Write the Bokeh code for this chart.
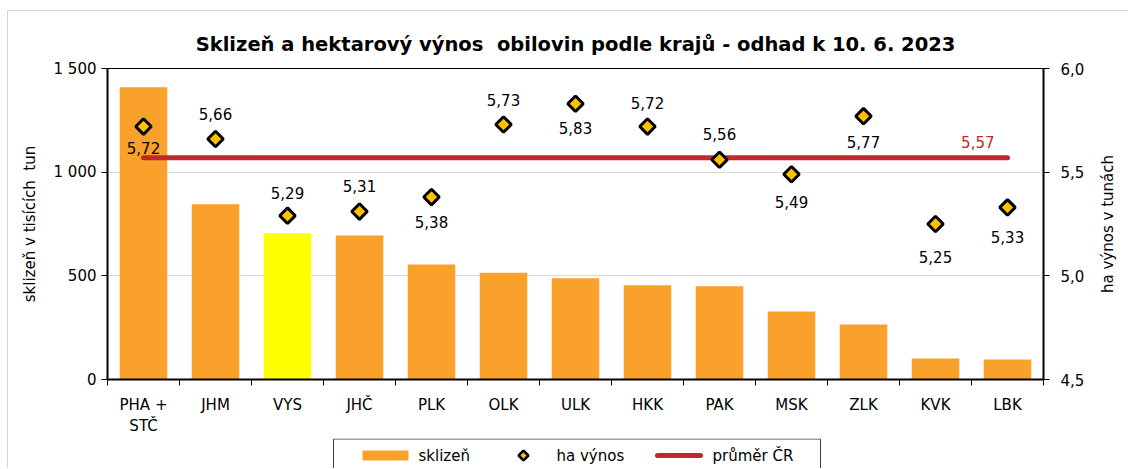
import math
from bokeh.plotting import figure
from bokeh.layouts import column, row
from bokeh.models import Range1d, LinearAxis, FixedTicker, ColumnDataSource
from bokeh.embed import file_html
from bokeh.resources import INLINE
from bokeh.core.properties import value

# ---------------- data ----------------
regions = ["PHA +\nSTČ", "JHM", "VYS", "JHČ", "PLK", "OLK", "ULK",
           "HKK", "PAK", "MSK", "ZLK", "KVK", "LBK"]
harvest = [1410, 845, 705, 695, 555, 515, 488, 455, 450, 328, 265, 101, 96]
yield_t = [5.72, 5.66, 5.29, 5.31, 5.38, 5.73, 5.83, 5.72, 5.56, 5.49, 5.77, 5.25, 5.33]
avg_cr = 5.57
left_ticks = [0, 500, 1000, 1500]
left_tick_labels = ["0", "500", "1 000", "1 500"]
right_ticks = [4.5, 5.0, 5.5, 6.0]
right_tick_labels = ["4,5", "5,0", "5,5", "6,0"]
title_text = "Sklizeň a hektarový výnos\u00a0 obilovin podle krajů - odhad k 10. 6. 2023"
left_label = "sklizeň v tisících\u00a0 tun"
right_label = "ha výnos v tunách"
legend_labels = ["sklizeň", "ha výnos", "průměr ČR"]

# ---------------- styles ----------------
FONT = "DejaVu Sans"
ORANGE = "#F9A12B"
YELLOW = "#FFFF00"
GOLD = "#FFC000"
RED = "#C1272D"
label_dy = [21, -25, -23, -26, 25, -24, 24, -24, -26, 28, 26, 33, 30]
TOTAL_W, H = 1120, 427
SW = 38                      # strip for the right axis title
W = TOTAL_W - SW
BL, BT, BB = 99, 57, 59
BR = W - 1035

idx = list(range(len(regions)))
bar_colors = [YELLOW if r == "VYS" else ORANGE for r in regions]
fmt = lambda v: f"{v:.2f}".replace(".", ",")

src = ColumnDataSource(dict(x=idx, harvest=harvest, yld=yield_t, color=bar_colors,
                            lab=[fmt(v) for v in yield_t], dy=label_dy))

p = figure(width=W, height=H, output_backend="svg", toolbar_location=None,
           x_range=Range1d(-0.5, len(regions) - 0.5), y_range=Range1d(0, 1500),
           min_border_left=BL, min_border_right=BR, min_border_top=BT,
           min_border_bottom=BB)
p.extra_y_ranges = {"y2": Range1d(4.5, 6.0)}

p.title.text = title_text
p.title.text_font = FONT
p.title.text_font_size = "19.5px"
p.title.text_font_style = "bold"
p.title.align = "center"
p.title.text_color = "#000000"
p.title.standoff = 26

p.outline_line_color = "black"
p.outline_line_width = 1
p.xgrid.visible = False
p.ygrid.ticker = FixedTicker(ticks=left_ticks[1:-1])
p.ygrid.grid_line_color = "#d9d9d9"

# x axis
xa = p.xaxis[0]
xa.ticker = FixedTicker(ticks=idx, minor_ticks=[i - 0.5 for i in range(len(regions) + 1)])
xa.major_label_overrides = {i: r for i, r in zip(idx, regions)}
xa.major_tick_in = 0
xa.major_tick_out = 0
xa.minor_tick_in = 0
xa.minor_tick_out = 6
xa.minor_tick_line_color = "black"
xa.axis_line_color = "black"
xa.axis_line_width = 2
xa.major_label_standoff = 10
xa.major_label_text_font = FONT
xa.major_label_text_font_size = "15px"
xa.major_label_text_color = "#000000"

# left axis
ya = p.yaxis[0]
ya.ticker = FixedTicker(ticks=left_ticks)
ya.major_label_overrides = {t: s for t, s in zip(left_ticks, left_tick_labels)}
ya.major_tick_in = 0
ya.major_tick_out = 6
ya.minor_tick_line_color = None
ya.axis_line_width = 2
ya.axis_line_color = "black"
ya.major_tick_line_color = "black"
ya.major_label_text_font = FONT
ya.major_label_text_font_size = "15px"
ya.major_label_text_color = "#000000"
ya.axis_label = left_label
ya.axis_label_text_font = FONT
ya.axis_label_text_font_size = "15px"
ya.axis_label_text_font_style = "normal"
ya.axis_label_text_color = "#000000"
ya.axis_label_standoff = 12

# right axis
ra = LinearAxis(y_range_name="y2", ticker=FixedTicker(ticks=right_ticks))
ra.major_label_overrides = {t: s for t, s in zip(right_ticks, right_tick_labels)}
ra.major_tick_in = 0
ra.major_tick_out = 6
ra.minor_tick_line_color = None
ra.axis_line_width = 2
ra.axis_line_color = "black"
ra.major_tick_line_color = "black"
ra.major_label_standoff = 11
ra.major_label_text_font = FONT
ra.major_label_text_font_size = "15px"
ra.major_label_text_color = "#000000"
p.add_layout(ra, "right")

# bars
p.vbar(x="x", top="harvest", width=0.66, fill_color="color", line_color=None, source=src)

# average line
p.line(x=[idx[0], idx[-1]], y=[avg_cr, avg_cr], line_color=RED, line_width=5,
       line_cap="round", y_range_name="y2")
p.text(x=[idx[-1]], y=[avg_cr], text=[fmt(avg_cr)], x_offset=-13, y_offset=-16,
       text_align="right", text_baseline="middle", text_color=RED,
       text_font=value(FONT), text_font_size="15px", y_range_name="y2")

# points
p.scatter(x="x", y="yld", marker="square", angle=math.pi / 4, size=11,
          fill_color=GOLD, line_color="black", line_width=3,
          y_range_name="y2", source=src)
p.text(x="x", y="yld", text="lab", y_offset="dy", text_align="center",
       text_baseline="middle", text_color="#000000", text_font=value(FONT),
       text_font_size="15px", y_range_name="y2", source=src)

# ---------------- right axis title strip (reads bottom-to-top) ----------------
FH = H - BT - BB
st = figure(width=SW, height=H, output_backend="svg", toolbar_location=None,
            x_range=Range1d(0, SW), y_range=Range1d(0, FH),
            min_border_left=0, min_border_right=0, min_border_top=BT,
            min_border_bottom=BB, x_axis_location=None, y_axis_location=None)
st.outline_line_color = None
st.grid.visible = False
st.text(x=[17], y=[FH / 2], text=[right_label], angle=math.pi / 2,
        text_align="center", text_baseline="middle", text_color="#000000",
        text_font=value(FONT), text_font_size="15px")

# ---------------- legend strip ----------------
LH = 30
lg = figure(width=TOTAL_W, height=LH, output_backend="svg", toolbar_location=None,
            x_range=Range1d(BL, 1035), y_range=Range1d(0, LH),
            min_border_left=BL, min_border_right=TOTAL_W - 1035, min_border_top=0,
            min_border_bottom=0, x_axis_location=None, y_axis_location=None)
lg.outline_line_color = None
lg.grid.visible = False
box_l, box_r, box_t = 325, 812, LH - 0.5
cy = 13
lg.quad(left=[box_l], right=[box_r], top=[box_t], bottom=[-10],
        fill_color="white", line_color="#404040", line_width=1)
lg.quad(left=[354], right=[400], top=[cy + 5], bottom=[cy - 5],
        fill_color=ORANGE, line_color=None)
lg.scatter(x=[515], y=[cy], marker="square", angle=math.pi / 4, size=7,
           fill_color=GOLD, line_color="black", line_width=2.5)
lg.line(x=[649, 692], y=[cy, cy], line_color=RED, line_width=5, line_cap="round")
lg.text(x=[410, 548, 704], y=[cy] * 3, text=legend_labels, text_align="left",
        text_baseline="middle", text_color="#000000", text_font=value(FONT),
        text_font_size="15px")

layout = column(row(p, st, spacing=0), lg, spacing=0)
layout.styles = {"margin-left": "7px", "margin-top": "10px",
                 "border-left": "1px solid #d4d4d4", "border-top": "1px solid #d4d4d4"}

open("out.html", "w").write(file_html(layout, INLINE))
